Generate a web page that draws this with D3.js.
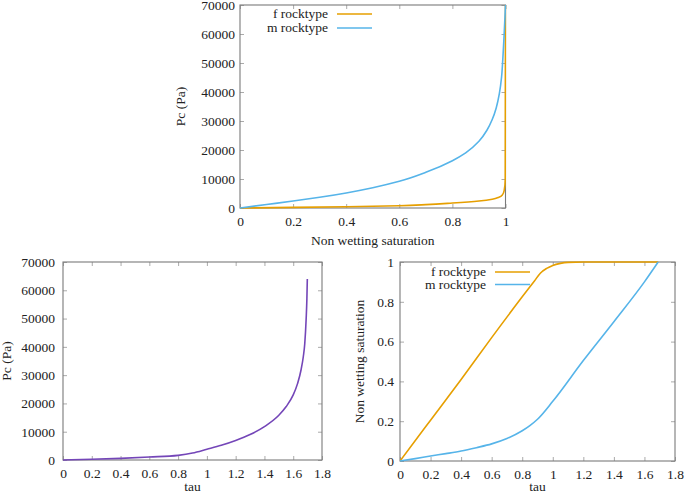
<!DOCTYPE html>
<html><head><meta charset="utf-8">
<script src="https://cdn.jsdelivr.net/npm/d3@7"></script>
</head>
<body style="margin:0;background:#fff"><svg id="c" width="685" height="494"></svg>
<script>
// ---- data ----
// Chart 1: Pc vs non wetting saturation
const satM = [0,0.1,0.2,0.3,0.4,0.5,0.6,0.7,0.8,0.85,0.9,0.93,0.95,0.965,0.977,0.985,0.99,0.995,1.0];
const pcM  = [0,1200,2400,3700,5200,7000,9200,12300,16300,19000,23000,26800,30500,34500,39500,45000,51500,60000,70000];
const satF = [0,0.2,0.4,0.6,0.7,0.8,0.9,0.95,0.975,0.988,0.995,0.999,1.0];
const pcF  = [0,200,450,800,1150,1700,2400,3000,3700,4500,6000,10000,70000];
// Chart 2: Pc vs tau
const tauP = [0,0.2,0.4,0.6,0.8,0.9,1.0,1.1,1.2,1.3,1.4,1.5,1.55,1.6,1.63,1.655,1.67,1.68,1.69,1.695,1.698];
const pcP  = [0,250,590,1060,1650,2450,3800,5200,6900,9000,11800,15800,18800,23000,27000,32000,36500,41000,50000,57000,64000];
// Chart 3: saturation vs tau
const tauF = [0,0.2,0.4,0.6,0.8,0.88,0.92,0.96,1.0,1.05,1.1,1.2,1.69];
const snF  = [0,0.205,0.41,0.62,0.825,0.905,0.945,0.968,0.983,0.993,0.998,1.0,1.0];
const tauM = [0,0.1,0.2,0.3,0.4,0.5,0.6,0.7,0.8,0.85,0.9,1.0,1.2,1.4,1.6,1.69];
const snM  = [0,0.012,0.025,0.037,0.05,0.067,0.086,0.113,0.152,0.178,0.21,0.3,0.505,0.70,0.9,1.0];
const legendNames = ["f rocktype","m rocktype"];
const colF = "#e69f00", colM = "#56b4e9", colP = "#7446b8";

const K = 13.5/16;   // render at 16px, scale down
const svg = d3.select("#c");
function styleText(sel){
  return sel.style("font-family",'"Liberation Serif"').style("font-size","16px").attr("fill","#222");
}
// place a text at (x,y) with optional rotation, scaled
function scaleText(node, rot){
  const t = d3.select(node);
  const x = +(t.attr("x")||0), y = +(t.attr("y")||0);
  t.attr("x",null).attr("y",null)
   .attr("transform",`translate(${x},${y})${rot?` rotate(${rot})`:""} scale(${K})`);
}

function panel(o){
  const g = svg.append("g");
  const x = d3.scaleLinear().domain(o.xd).range([o.l,o.r]);
  const y = d3.scaleLinear().domain(o.yd).range([o.b,o.t]);
  const tl = 4;
  const bottom = d3.axisBottom(x).tickValues(o.xt).tickSize(-tl).tickPadding(8).tickFormat(d3.format("~g"));
  const top = d3.axisTop(x).tickValues(o.xt).tickSize(-tl).tickFormat("");
  const left = d3.axisLeft(y).tickValues(o.yt).tickSize(-tl).tickPadding(o.yp).tickFormat(d3.format("~g"));
  const right = d3.axisRight(y).tickValues(o.yt).tickSize(-tl).tickFormat("");
  const ax = [
    g.append("g").attr("transform",`translate(0,${o.b})`).call(bottom),
    g.append("g").attr("transform",`translate(0,${o.t})`).call(top),
    g.append("g").attr("transform",`translate(${o.l},0)`).call(left),
    g.append("g").attr("transform",`translate(${o.r},0)`).call(right)
  ];
  ax.forEach(a=>{
    a.attr("font-family",null).attr("font-size",null);
    a.select(".domain").remove();
    a.selectAll(".tick line").attr("stroke","#aaa");
    styleText(a.selectAll("text")).each(function(){ scaleText(this); });
  });
  g.append("rect").attr("x",o.l).attr("y",o.t).attr("width",o.r-o.l).attr("height",o.b-o.t)
    .attr("fill","none").attr("stroke","#7a7a7a").attr("stroke-width",1.1);
  const xl = styleText(g.append("text").attr("x",(o.l+o.r)/2).attr("y",o.xly).attr("text-anchor","middle").text(o.xl));
  scaleText(xl.node());
  const yl = styleText(g.append("text").attr("x",o.ylx).attr("y",(o.t+o.b)/2).attr("text-anchor","middle").text(o.yl));
  scaleText(yl.node(), -90);
  const clipId = "clip"+o.id;
  svg.append("clipPath").attr("id",clipId).append("rect")
    .attr("x",o.l).attr("y",o.t-1).attr("width",o.r-o.l+1).attr("height",o.b-o.t+2);
  o.series.forEach(s=>{
    const pts = s.xs.map((v,i)=>[v,s.ys[i]]);
    g.append("path").attr("clip-path",`url(#${clipId})`)
      .attr("d", d3.line().x(d=>x(d[0])).y(d=>y(d[1])).curve(s.curve)(pts))
      .attr("fill","none").attr("stroke",s.c).attr("stroke-width",1.6);
  });
  if(o.legend){
    o.legend.forEach((L,i)=>{
      const yy = o.legY + i*o.legDy;
      const t = styleText(g.append("text").attr("x",o.legX).attr("y",yy).attr("dy","0.33em").attr("text-anchor","end").text(L.n));
      scaleText(t.node());
      g.append("line").attr("x1",o.legX+9).attr("x2",o.legX+44).attr("y1",yy).attr("y2",yy)
        .attr("stroke",L.c).attr("stroke-width",1.6);
    });
  }
}

panel({id:1,l:240,r:505.5,t:5,b:208,xd:[0,1],yd:[0,70000],yp:5,
  xt:[0,0.2,0.4,0.6,0.8,1],yt:d3.range(0,70001,10000),
  xl:"Non wetting saturation",xly:245,yl:"Pc (Pa)",ylx:185,
  series:[{xs:satF,ys:pcF,c:colF,curve:d3.curveMonotoneY},{xs:satM,ys:pcM,c:colM,curve:d3.curveMonotoneY}],
  legend:[{n:legendNames[0],c:colF},{n:legendNames[1],c:colM}],legX:328,legY:14,legDy:14});

panel({id:2,l:63,r:322,t:262,b:460,xd:[0,1.8],yd:[0,70000],yp:8,
  xt:d3.range(0,1.81,0.2).map(v=>+v.toFixed(1)),yt:d3.range(0,70001,10000),
  xl:"tau",xly:491,yl:"Pc (Pa)",ylx:11,
  series:[{xs:tauP,ys:pcP,c:colP,curve:d3.curveMonotoneX}]});

panel({id:3,l:400,r:675,t:262,b:461,xd:[0,1.8],yd:[0,1],yp:6,
  xt:d3.range(0,1.81,0.2).map(v=>+v.toFixed(1)),yt:[0,0.2,0.4,0.6,0.8,1],
  xl:"tau",xly:491,yl:"Non wetting saturation",ylx:364,
  series:[{xs:tauF,ys:snF,c:colF,curve:d3.curveMonotoneX},{xs:tauM,ys:snM,c:colM,curve:d3.curveMonotoneX}],
  legend:[{n:legendNames[0],c:colF},{n:legendNames[1],c:colM}],legX:486,legY:272,legDy:12.5});
</script></body></html>
